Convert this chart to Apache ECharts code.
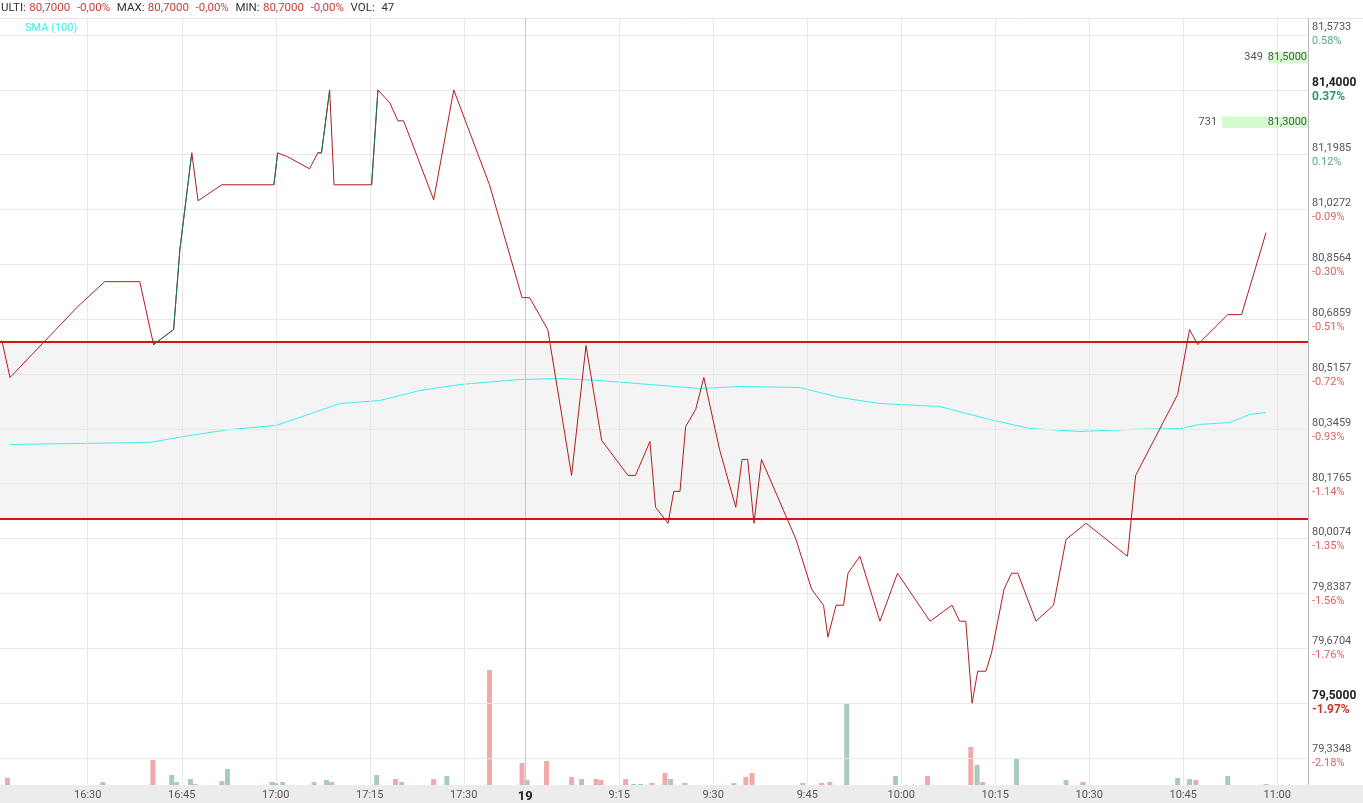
<!DOCTYPE html><html><head><meta charset="utf-8">
<script src="https://cdn.jsdelivr.net/npm/echarts@6/dist/echarts.min.js"></script>
<style>html,body{margin:0;padding:0;background:#fff}#c{width:1363px;height:803px}</style></head><body><div id="c"></div>
<script>
// time index: minutes after 16:16 (day 1); day 2 starts at index 84 = 9:00
const priceTimes=[0.3,1.6,12.4,16.7,22.3,24.5,27.7,28.7,30.6,31.6,35.4,43.7,44.3,45.9,49.4,50.7,51.3,52.6,53.3,59.3,60.3,62.2,63.5,64.4,69.2,72.4,78.1,83.3,84.5,87.4,91.2,93.5,96.0,100.2,101.4,103.7,104.6,106.6,107.5,108.5,109.4,111.0,112.3,114.8,117.4,118.4,119.3,120.3,121.5,127.0,129.5,131.4,132.1,133.4,134.6,135.3,137.2,140.4,143.2,148.4,151.9,153.1,154.1,155.1,156.0,157.3,158.2,160.2,161.4,162.4,165.3,168.1,170.1,173.3,179.9,181.2,187.9,189.8,191.1,195.9,198.1,202.0];
const priceValues=[80.6234,80.5089,80.7286,80.8059,80.8059,80.611,80.6574,80.905,81.2051,81.0566,81.1061,81.1061,81.2051,81.1927,81.1556,81.2051,81.2051,81.4,81.1061,81.1061,81.4,81.3598,81.3041,81.3041,81.0597,81.4,81.1061,80.7564,80.7564,80.6574,80.2057,80.6079,80.314,80.2057,80.2057,80.3109,80.1067,80.0572,80.1562,80.1562,80.3573,80.4099,80.5089,80.2868,80.1067,80.2552,80.2552,80.0572,80.2552,80.0077,79.853,79.8035,79.7045,79.8035,79.8035,79.9025,79.9551,79.754,79.9025,79.754,79.8035,79.754,79.754,79.5,79.599,79.599,79.655,79.853,79.9025,79.9025,79.754,79.8035,80.0077,80.0572,79.9551,80.2057,80.4563,80.6574,80.611,80.7038,80.7038,80.9576];
const greenRuns=[[5,8],[11,12],[15,17],[19,20]];
const smaTimes=[1.6,23.9,30.3,36.7,44.0,47.8,54.2,60.6,67.0,73.4,82.9,89.3,95.7,103.7,111.7,118.0,127.6,134.0,140.4,149.9,157.9,164.3,172.3,180.3,188.3,191.4,196.2,199.4,202.0];
const smaValues=[80.3016,80.3078,80.3295,80.348,80.3604,80.3851,80.4285,80.4377,80.4687,80.4873,80.5027,80.5058,80.4996,80.4873,80.4749,80.4811,80.478,80.447,80.4285,80.4192,80.379,80.3511,80.3418,80.348,80.3511,80.3635,80.3697,80.3944,80.4006];
const volTimes=[1.2,16.4,24.4,27.4,28.2,30.4,31.1,35.4,36.3,43.4,44.0,45.1,50.1,52.1,52.9,60.1,63.1,64.1,69.2,71.3,78.1,83.3,84.1,87.2,91.2,92.8,95.1,95.9,99.8,101.1,102.2,104.0,106.1,107.0,109.3,117.1,119.0,120.0,128.1,131.1,132.4,135.1,142.9,148.0,154.9,155.9,156.8,162.2,170.1,172.8,187.9,189.8,190.8,195.9,202.0];
const volValues=[7,3,25,10,3,6,1,4,16,3,2,3,3,5,3,10,6,3,6,9,115,22,5,24,8,6,6,5,6,1,1,2,12,6,2,2,8,12,2,2,3,81,9,9,38,20,3,26,5,3,7,6,5,9,1];
const volUp=[0,1,0,1,1,1,0,1,1,1,1,1,1,1,0,1,0,1,0,1,0,0,1,0,0,1,0,0,0,1,1,0,0,1,1,1,0,0,1,0,0,1,1,0,0,1,0,1,1,0,1,1,0,1,1];
const xTickValues=[14,29,44,59,74,83.8,98.8,113.8,128.8,143.8,158.8,173.8,188.8,203.8];
const xTickLabels=['16:30','16:45','17:00','17:15','17:30','19','9:15','9:30','9:45','10:00','10:15','10:30','10:45','11:00'];
const yTickValues=[81.5733,81.4,81.1985,81.0272,80.8564,80.6859,80.5157,80.3459,80.1765,80.0074,79.8387,79.6704,79.5,79.3348];
const refPrice=81.1;
const bandHigh=80.6234, bandLow=80.0726;
const book=[{qty:349,price:81.5,from:202.3},{qty:731,price:81.3,from:195.0}];
const header={ulti:'80,7000',ultiPct:'-0,00%',max:'80,7000',maxPct:'-0,00%',min:'80,7000',minPct:'-0,00%',vol:'47'};

const XMIN=0,XMAX=208.7;
const fmt=v=>v.toFixed(4).replace('.',',');
const pricePairs=priceTimes.map((t,i)=>[t,priceValues[i]]);
const greenData=[];
greenRuns.forEach(r=>{for(let i=r[0];i<=r[1];i++)greenData.push(pricePairs[i]);greenData.push([null,null]);});
const ch=echarts.init(document.getElementById('c'));
const F='Roboto';
const xAxisBase={type:'value',min:XMIN,max:XMAX,splitLine:{show:false},axisTick:{show:false},axisLine:{show:false}};
ch.setOption({
  animation:false,
  textStyle:{fontFamily:F},
  graphic:[
    {type:'rect',left:0,top:785,shape:{width:1363,height:18},style:{fill:'#ececec'},z:-10},
    {type:'line',shape:{x1:1308.5,y1:18,x2:1308.5,y2:785},style:{stroke:'#bbb',lineWidth:1},z:5},
    {type:'line',shape:{x1:0,y1:18.5,x2:1363,y2:18.5},style:{stroke:'#e6e6e6',lineWidth:1}},
    {type:'text',left:1,top:2,style:{text:'{k|ULTI:} {r|'+header.ulti+'}  {r|'+header.ultiPct+'}  {k|MAX:} {r|'+header.max+'}  {r|'+header.maxPct+'}  {k|MIN:} {r|'+header.min+'}  {r|'+header.minPct+'}  {k|VOL:}  {k|'+header.vol+'}',
      rich:{k:{fill:'#333',fontSize:11.5,fontFamily:F},r:{fill:'#d03a3a',fontSize:11.5,fontFamily:F}}}},
    {type:'text',left:25,top:23,style:{text:'SMA (100)',fill:'#3ff0f0',fontSize:11,fontFamily:F}}
  ],
  grid:[{left:0,right:55,top:18,bottom:18},{left:0,right:55,top:670,bottom:18}],
  xAxis:[
    Object.assign({gridIndex:0,axisLabel:{show:true,customValues:xTickValues,margin:6,
      formatter:v=>{const i=xTickValues.indexOf(v);if(i<0)return '';return xTickLabels[i]==='19'?'{b|19}':xTickLabels[i];},
      color:'#555',fontSize:11,rich:{b:{fontSize:13,fontWeight:'bold',color:'#222',fontFamily:F}}}},xAxisBase),
    Object.assign({gridIndex:1,axisLabel:{show:false}},xAxisBase)
  ],
  yAxis:[
    {type:'value',gridIndex:0,position:'right',min:79.2496,max:81.6228,splitLine:{show:false},axisLine:{show:false},axisTick:{show:false},
     axisLabel:{customValues:yTickValues,margin:4,align:'left',formatter:v=>{
       const p=(v/refPrice-1)*100;const bold=(v===81.4||v===79.5);
       const ps=p.toFixed(2)+'%';
       const pk=(p>=0?'g':'r')+(bold?'B':'');
       return '{'+(bold?'vB':'v')+'|'+fmt(v)+'}\n{'+pk+'|'+ps+'}';},
      rich:{v:{color:'#555',fontSize:11,lineHeight:14,fontFamily:F},vB:{color:'#222',fontSize:12,fontWeight:'bold',lineHeight:14,fontFamily:F},
        g:{color:'#5aaa82',fontSize:11,lineHeight:14,fontFamily:F},gB:{color:'#2e9a62',fontSize:12,fontWeight:'bold',lineHeight:14,fontFamily:F},
        r:{color:'#e06060',fontSize:11,lineHeight:14,fontFamily:F},rB:{color:'#d03030',fontSize:12,fontWeight:'bold',lineHeight:14,fontFamily:F}}}},
    {type:'value',gridIndex:1,min:0,max:115,show:false}
  ],
  series:[
    {type:'line',xAxisIndex:0,yAxisIndex:0,data:[],silent:true,z:1,
     markArea:{silent:true,itemStyle:{color:'#f4f4f4'},data:[[{xAxis:XMIN,yAxis:bandLow},{xAxis:XMAX,yAxis:bandHigh}]]}},
    {type:'line',xAxisIndex:0,yAxisIndex:0,data:[],silent:true,z:2,
     markLine:{silent:true,symbol:'none',label:{show:false},
       data:yTickValues.map(v=>({yAxis:v,lineStyle:{color:'#e8e8e8',width:1,type:'solid'}}))
        .concat(xTickValues.map((v,i)=>({xAxis:v,lineStyle:{color:xTickLabels[i]==='19'?'#c8c8c8':'#e8e8e8',width:1,type:'solid'}})))}},
    {type:'line',xAxisIndex:0,yAxisIndex:0,data:[],silent:true,z:8,
     markArea:{silent:true,data:book.map(b=>[{xAxis:b.from,yAxis:b.price-0.018,itemStyle:{color:'#d4fbd0'}},{xAxis:XMAX,yAxis:b.price+0.018}])}},
    {type:'line',xAxisIndex:0,yAxisIndex:0,data:[],silent:true,z:4,
     markLine:{silent:true,symbol:'none',label:{show:false},lineStyle:{color:'#e01010',width:2,type:'solid'},data:[{yAxis:bandHigh},{yAxis:bandLow}]}},
    {type:'line',name:'SMA (100)',data:smaTimes.map((t,i)=>[t,smaValues[i]]),showSymbol:false,lineStyle:{color:'#3ff0f0',width:1},z:3},
    {type:'line',data:pricePairs,showSymbol:false,lineStyle:{color:'#b01c1c',width:1},z:6},
    {type:'line',data:greenData,connectNulls:false,showSymbol:false,lineStyle:{color:'#137a52',width:1},z:7},
    {type:'bar',xAxisIndex:1,yAxisIndex:1,barWidth:5,data:volTimes.map((t,i)=>({value:[t,volValues[i]],itemStyle:{color:volUp[i]?'#a9cbbc':'#f2a9a9'}}))}
  ]
});
const gr=[];
book.forEach(b=>{const p=ch.convertToPixel({xAxisIndex:0,yAxisIndex:0},[b.from,b.price]);
  const e=ch.convertToPixel({xAxisIndex:0,yAxisIndex:0},[XMAX,b.price]);
  gr.push({type:'text',z:100,x:p[0]-5,y:p[1],style:{text:String(b.qty),fill:'#555',fontSize:11,fontFamily:F,align:'right',verticalAlign:'middle'}});
  gr.push({type:'text',z:100,x:e[0]-1,y:e[1],style:{text:fmt(b.price),fill:'#555',fontSize:11,fontFamily:F,align:'right',verticalAlign:'middle'}});});
ch.setOption({graphic:ch.getOption().graphic[0].elements.concat(gr)});
</script></body></html>
